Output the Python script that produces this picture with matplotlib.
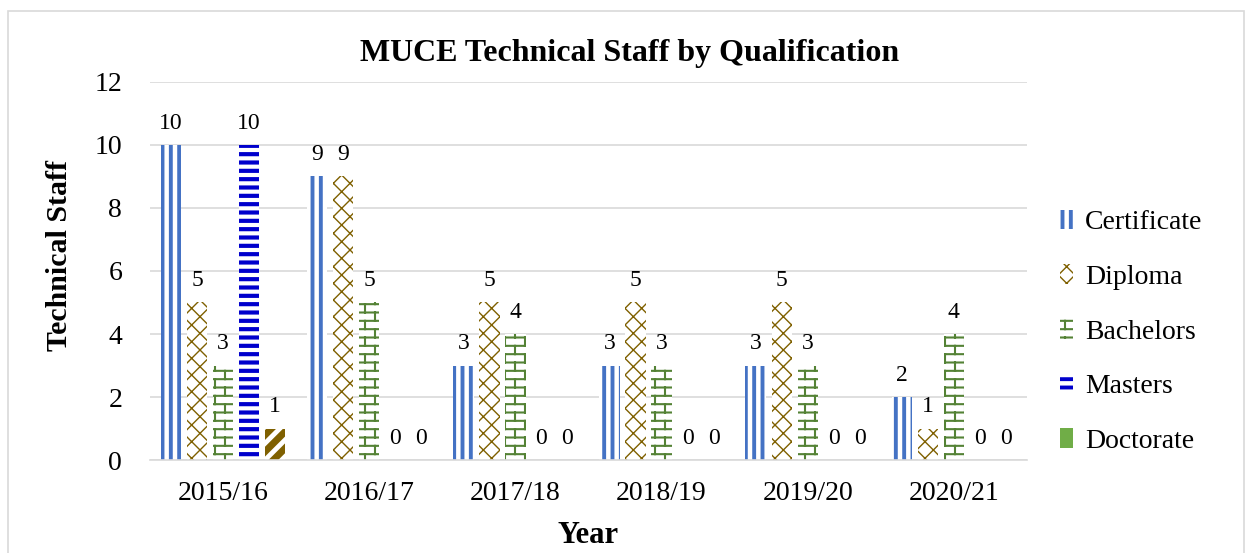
import warnings
import numpy as np
import matplotlib
matplotlib.use("Agg")
import matplotlib.pyplot as plt
from matplotlib import hatch as mhatch
from matplotlib.path import Path
from matplotlib.patches import Patch, Rectangle

warnings.filterwarnings("ignore")

years = ["2015/16", "2016/17", "2017/18", "2018/19", "2019/20", "2020/21"]
series_names = ["Certificate", "Diploma", "Bachelors", "Masters", "Doctorate"]
certificate = [10, 9, 3, 3, 3, 2]
diploma = [5, 9, 5, 5, 5, 1]
bachelors = [3, 5, 4, 3, 3, 4]
masters = [10, 0, 0, 0, 0, 0]
doctorate = [1, 0, 0, 0, 0, 0]


class BrickHatch(mhatch.HatchPatternBase):
    """Brick pattern, triggered by the 'b' character."""

    def __init__(self, hatch, density):
        self.rows = int(hatch.count("b") * density * 2)
        self.cols = 5
        # horizontal lines + one joint per brick per row + wrap-around piece
        self.num_vertices = self.rows * 2 + (self.rows + 1) * self.cols * 2

    def set_vertices_and_codes(self, vertices, codes):
        n, m = self.rows, self.cols
        # lines sit half a row in from the tile edge so none gets clipped
        ys = (np.arange(n) + 0.5) / n
        vertices[0:2 * n:2] = np.column_stack([np.zeros(n), ys])
        vertices[1:2 * n:2] = np.column_stack([np.ones(n), ys])
        codes[0:2 * n:2] = Path.MOVETO
        codes[1:2 * n:2] = Path.LINETO
        segs = []
        for r in range(n):
            off = 0.25 if r % 2 == 0 else 0.75
            for k in range(m):
                xv = (k + off) / m
                if r < n - 1:
                    segs.append((xv, ys[r], ys[r + 1]))
                else:
                    segs.append((xv, ys[r], 1.0))
                    segs.append((xv, 0.0, ys[0]))
        i = 2 * n
        for xv, y0, y1 in segs:
            vertices[i] = (xv, y0)
            vertices[i + 1] = (xv, y1)
            codes[i] = Path.MOVETO
            codes[i + 1] = Path.LINETO
            i += 2


mhatch._hatch_types.append(BrickHatch)

plt.rcParams["font.family"] = ["Liberation Serif", "DejaVu Serif"]

fig = plt.figure(figsize=(12.5, 5.53), dpi=100)
ax = fig.add_axes([0.12, 0.168, 0.7016, 0.684])

# colour, hatch, hatch linewidth per series
styles = [
    ("#4472C4", "||", 2.8),
    ("#7F6000", "xx", 1.0),
    ("#548235", "b", 1.5),
    ("#0000CC", "--", 3.0),
    ("#7F6000", "//", 5.0),
]
values = [certificate, diploma, bachelors, masters, doctorate]

x = np.arange(len(years))
step = 0.178
width = 0.14
for j, (vals, (col, h, hlw)) in enumerate(zip(values, styles)):
    pos = x + (j - 2) * step
    with plt.rc_context({"hatch.linewidth": hlw}):
        bars = ax.bar(pos, vals, width, facecolor="white", edgecolor=col,
                      hatch=h, linewidth=0, zorder=2)
        for b in bars:
            if hasattr(b, "set_hatch_linewidth"):
                b.set_hatch_linewidth(hlw)
    for p, v in zip(pos, vals):
        ax.annotate(str(v), (p, v), xytext=(0, 8), textcoords="offset points",
                    ha="center", va="bottom", fontsize=17)

ax.set_xlim(-0.5, 5.5)
ax.set_ylim(0, 12)
ax.set_yticks(range(0, 13, 2))
ax.set_xticks(x)
ax.set_xticklabels(years)
ax.tick_params(axis="both", length=0, labelsize=20)
ax.tick_params(axis="x", pad=15)
ax.tick_params(axis="y", pad=20)
ax.grid(axis="y", color="#D9D9D9", linewidth=1.2, zorder=0)
ax.set_axisbelow(True)
for s in ["top", "right", "left"]:
    ax.spines[s].set_visible(False)
ax.spines["bottom"].set_color("#D9D9D9")
ax.spines["bottom"].set_linewidth(1.2)

ax.set_xlabel("Year", fontsize=22, fontweight="bold", labelpad=11)
ax.set_ylabel("Technical Staff", fontsize=21.5, fontweight="bold")
ax.yaxis.set_label_coords(-0.088, 0.54)
fig.suptitle("MUCE Technical Staff by Qualification", fontsize=23,
             fontweight="bold", x=0.504, y=0.93)

handles = []
for col, h, hlw in styles[:4]:
    handles.append(Patch(facecolor="white", edgecolor=col, hatch=h, linewidth=0))
handles.append(Patch(facecolor="#70AD47", edgecolor="#70AD47", linewidth=0))
leg = fig.legend(handles, series_names, loc="center left",
                 bbox_to_anchor=(0.828, 0.40), frameon=False, fontsize=20,
                 handlelength=0.45, handleheight=0.7, handletextpad=0.45,
                 labelspacing=1.05)
for p, (col, h, hlw) in zip(leg.get_patches(), styles[:4]):
    if hasattr(p, "set_hatch_linewidth"):
        p.set_hatch_linewidth(min(hlw, 2.8))

fig.add_artist(Rectangle((0.006, -0.02), 0.989, 1 - 0.019 + 0.02,
                         transform=fig.transFigure, fill=False,
                         edgecolor="#D9D9D9", linewidth=1.2))

fig.savefig("out.png", dpi=100)
